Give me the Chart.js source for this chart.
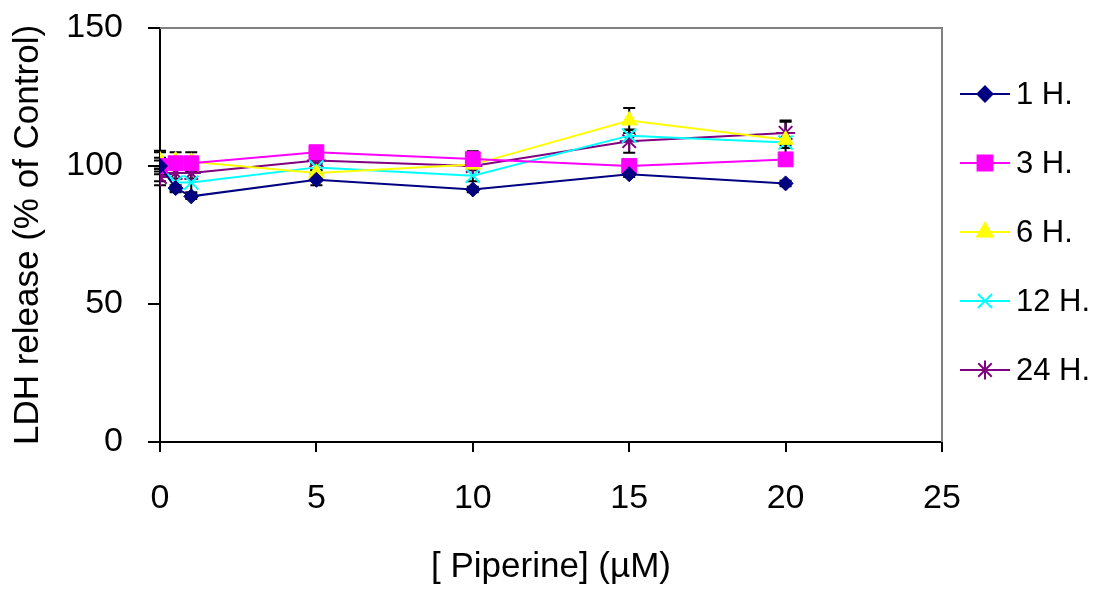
<!DOCTYPE html>
<html>
<head>
<meta charset="utf-8">
<script src="https://cdn.jsdelivr.net/npm/chart.js@4.4.1/dist/chart.umd.min.js"></script>
<style>
  html, body { margin: 0; padding: 0; background: #fff; }
  #wrap { width: 1093px; height: 596px; }
</style>
</head>
<body>
<div id="wrap"><canvas id="chart" width="1093" height="596"></canvas></div>
<script>
// piperine concentrations (uM)
const concentrations = [0, 0.5, 1, 5, 10, 15, 20];
const seriesNames = ["1 H.", "3 H.", "6 H.", "12 H.", "24 H."];

// LDH release, % of control
const ldh1h  = [100, 92, 89, 95, 91.5, 97, 93.7];
const ldh3h  = [100, 101, 101, 105, 102.5, 100, 102.4];
const ldh6h  = [102, 102, 101.5, 97.5, 100.5, 116.5, 109.5];
const ldh12h = [100, 94, 94, 99.5, 96.5, 111, 108.5];
const ldh24h = [96, 97.5, 97.5, 102, 100, 109, 112];

// error bars (+/-)
const err1h  = [2, 1, 1, 2, 1, 1, 1];
const err3h  = [5.5, 2, 2, 1, 2.8, 1, 1];
const err6h  = [3, 3, 3.5, 1, 1, 4.5, 6.5];
const err12h = [3, 3.5, 3.5, 1, 2, 2, 2];
const err24h = [3, 2, 2, 1, 1, 4.2, 4.5];

const xTicks = [0, 5, 10, 15, 20, 25];
const yTicks = [0, 50, 100, 150];

const tickFont = { family: "'Liberation Sans', Arial, sans-serif", size: 34 };
const titleFont = { family: "'Liberation Sans', Arial, sans-serif", size: 35 };
const legendFont = { family: "'Liberation Sans', Arial, sans-serif", size: 31 };

function makeSeries(label, values, errors, color, style, radius, bw) {
  return {
    label: label,
    data: concentrations.map((c, i) => ({ x: c, y: values[i] })),
    errors: errors,
    borderColor: color,
    backgroundColor: color,
    borderWidth: 2,
    pointStyle: style,
    pointRadius: radius,
    pointHoverRadius: radius,
    pointBackgroundColor: color,
    pointBorderColor: color,
    pointBorderWidth: bw,
    tension: 0,
    fill: false
  };
}

const errorBars = {
  id: "errorBars",
  beforeDatasetsDraw(chart) {
    const { ctx, scales } = chart;
    ctx.save();
    ctx.strokeStyle = "#000";
    ctx.lineWidth = 2;
    chart.data.datasets.forEach(ds => {
      ds.data.forEach((p, i) => {
        const e = ds.errors[i];
        const x = scales.x.getPixelForValue(p.x);
        const yTop = scales.y.getPixelForValue(p.y + e);
        const yBot = scales.y.getPixelForValue(p.y - e);
        ctx.beginPath();
        ctx.moveTo(x, yTop); ctx.lineTo(x, yBot);
        ctx.moveTo(x - 6, yTop); ctx.lineTo(x + 6, yTop);
        ctx.moveTo(x - 6, yBot); ctx.lineTo(x + 6, yBot);
        ctx.stroke();
      });
    });
    ctx.restore();
  }
};

const plotFrame = {
  id: "plotFrame",
  beforeDatasetsDraw(chart) {
    const { ctx, chartArea } = chart;
    ctx.save();
    ctx.strokeStyle = "#808080";
    ctx.lineWidth = 2;
    ctx.beginPath();
    ctx.moveTo(chartArea.left, chartArea.top);
    ctx.lineTo(chartArea.right, chartArea.top);
    ctx.lineTo(chartArea.right, chartArea.bottom);
    ctx.stroke();
    ctx.restore();
  }
};

const sideLegend = {
  id: "sideLegend",
  afterDraw(chart) {
    const { ctx, chartArea } = chart;
    const x0 = chartArea.right + 18;
    ctx.save();
    chart.data.datasets.forEach((ds, i) => {
      const y = 94 + i * 69;
      ctx.strokeStyle = ds.borderColor;
      ctx.fillStyle = ds.borderColor;
      ctx.lineWidth = 2;
      ctx.beginPath();
      ctx.moveTo(x0, y);
      ctx.lineTo(x0 + 50, y);
      ctx.stroke();
      if (Chart.helpers && Chart.helpers.drawPoint) {
        Chart.helpers.drawPoint(ctx, {
          pointStyle: ds.pointStyle,
          radius: ds.pointRadius,
          rotation: 0,
          borderWidth: ds.pointBorderWidth
        }, x0 + 25, y);
      }
      ctx.fillStyle = "#000";
      ctx.font = legendFont.size + "px " + legendFont.family;
      ctx.textBaseline = "middle";
      ctx.textAlign = "left";
      ctx.fillText(ds.label, x0 + 56, y + 1);
    });
    ctx.restore();
  }
};

new Chart(document.getElementById("chart").getContext("2d"), {
  type: "line",
  data: {
    datasets: [
      makeSeries(seriesNames[0], ldh1h, err1h, "#000080", "rectRot", 7.5, 1),
      makeSeries(seriesNames[1], ldh3h, err3h, "#FF00FF", "rect", 10.5, 1),
      makeSeries(seriesNames[2], ldh6h, err6h, "#FFFF00", "triangle", 9, 1),
      makeSeries(seriesNames[3], ldh12h, err12h, "#00FFFF", "crossRot", 10, 2),
      makeSeries(seriesNames[4], ldh24h, err24h, "#800080", "star", 9.5, 2)
    ]
  },
  options: {
    responsive: false,
    animation: false,
    events: [],
    layout: { padding: { left: 0, right: 151, top: 28, bottom: 0 } },
    plugins: {
      legend: { display: false },
      tooltip: { enabled: false }
    },
    scales: {
      x: {
        type: "linear",
        min: xTicks[0],
        max: xTicks[xTicks.length - 1],
        afterBuildTicks: s => { s.ticks = xTicks.map(v => ({ value: v })); },
        afterFit: s => { s.height = 154; s.paddingLeft = 0; s.paddingRight = 0; },
        grid: { drawOnChartArea: false, drawTicks: true, tickLength: 10, color: "#000", lineWidth: 2 },
        border: { display: true, color: "#000", width: 2 },
        ticks: { color: "#000", font: tickFont, padding: 26, maxRotation: 0 },
        title: { display: true, text: "[ Piperine] (µM)", color: "#000", font: titleFont, padding: { top: 0, bottom: 8 } }
      },
      y: {
        min: yTicks[0],
        max: yTicks[yTicks.length - 1],
        afterBuildTicks: s => { s.ticks = yTicks.map(v => ({ value: v })); },
        afterFit: s => { s.width = 160; s.paddingTop = 0; s.paddingBottom = 0; },
        grid: { drawOnChartArea: false, drawTicks: true, tickLength: 12, color: "#000", lineWidth: 2 },
        border: { display: true, color: "#000", width: 2 },
        ticks: { color: "#000", font: tickFont, padding: 25 },
        title: { display: true, text: "LDH release (% of Control)", color: "#000", font: titleFont, padding: { top: 7, bottom: 0 } }
      }
    }
  },
  plugins: [plotFrame, errorBars, sideLegend]
});
</script>
</body>
</html>
